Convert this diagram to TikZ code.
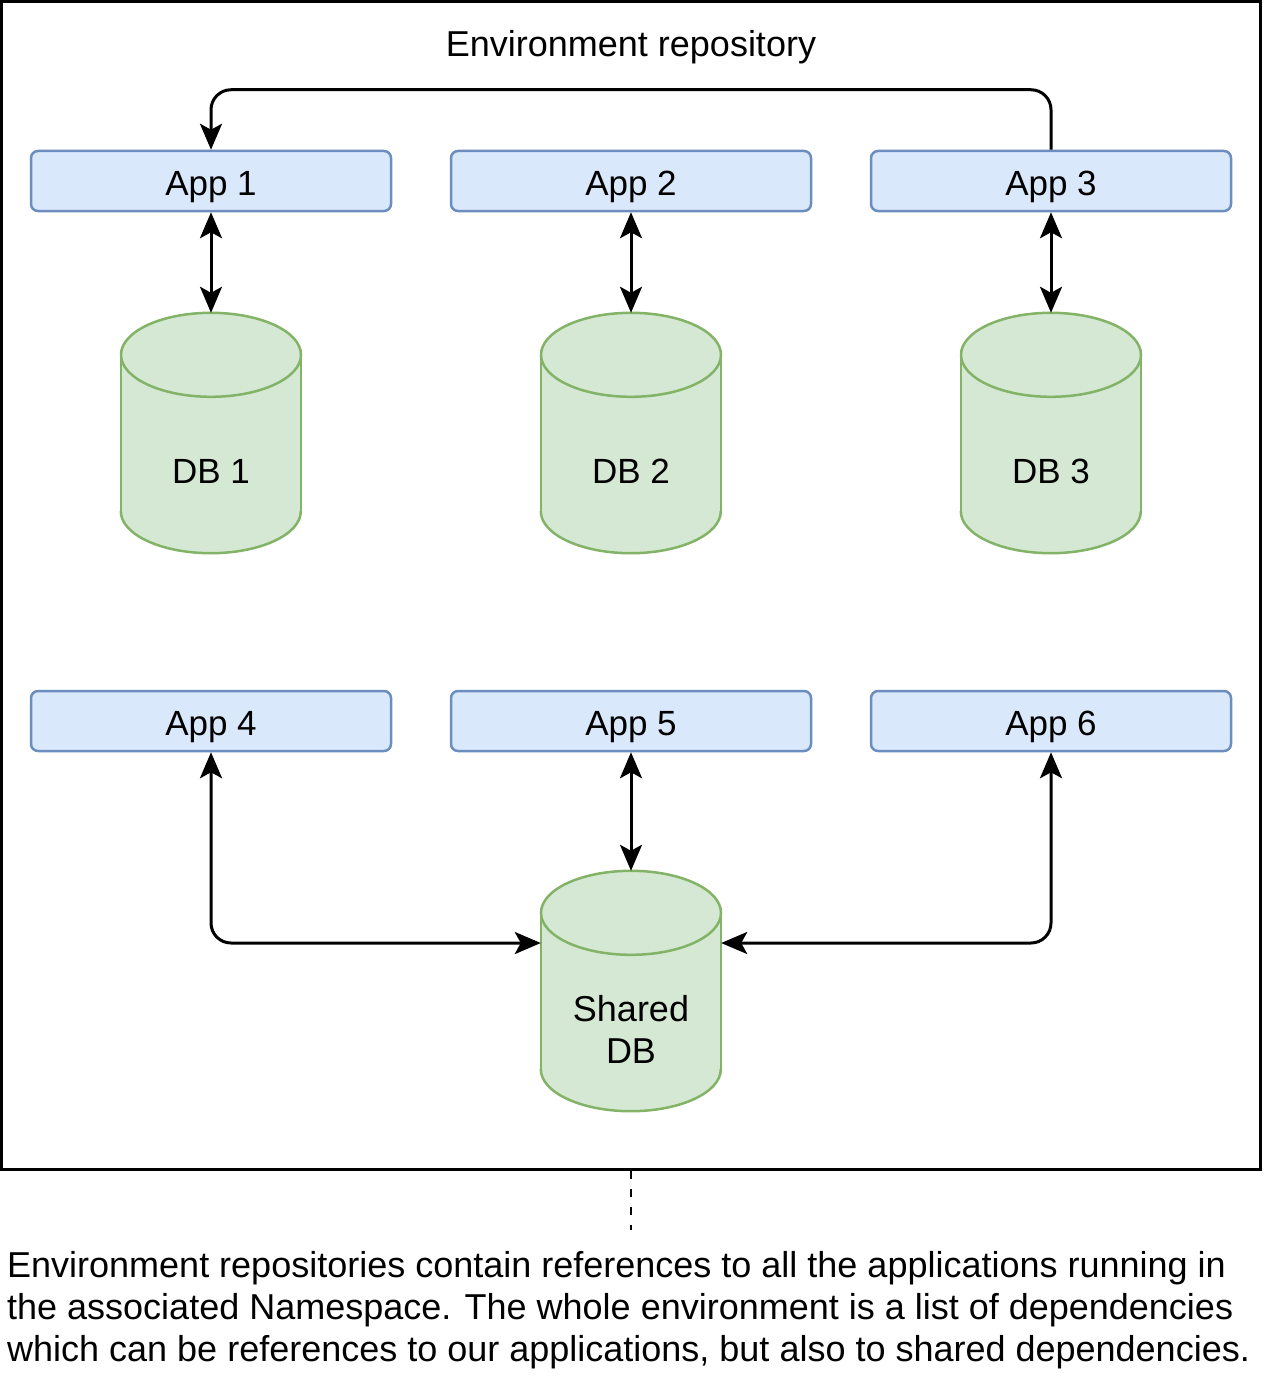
\documentclass[tikz,border=0pt]{standalone}
\usepackage{fontspec}
\setmainfont{Liberation Sans}
\usetikzlibrary{arrows.meta,calc}
\definecolor{appfill}{HTML}{DAE8FC}
\definecolor{appdraw}{HTML}{6C8EBF}
\definecolor{dbfill}{HTML}{D5E8D4}
\definecolor{dbdraw}{HTML}{82B366}
\tikzset{
  appbox/.style={draw=appdraw, fill=appfill, line width=2.5pt, rounded corners=7pt,
    minimum width=360pt, minimum height=60pt, inner sep=0pt,
    font=\fontsize{35}{42}\selectfont, text height=29pt, text depth=0pt},
  dbbox/.style={minimum width=180pt, minimum height=240pt, inner sep=0pt},
  dbtext/.style={align=center, font=\fontsize{35}{42}\selectfont},
  cylfill/.style={fill=dbfill},
  cylline/.style={draw=dbdraw, line width=2.5pt, line cap=round},
  >={Stealth[length=26pt, width=22pt, inset=6pt]},
  conn/.style={line width=3pt, draw=black, <->},
  conn1/.style={line width=3pt, draw=black, ->},
}
\newcommand\mycyl[1]{%
  \fill[cylfill] ($(#1.north west)+(0,42)$) rectangle ($(#1.south east)+(0,-42)$);
  \fill[cylfill] ($(#1.south)+(0,-42)$) ellipse[x radius=90pt, y radius=42pt];
  \draw[cylline] ($(#1.north west)+(0,42)$) -- ($(#1.south west)+(0,-42)$);
  \draw[cylline] ($(#1.north east)+(0,42)$) -- ($(#1.south east)+(0,-42)$);
  \draw[cylline] ($(#1.south west)+(0,-42)$) arc[start angle=180, end angle=360, x radius=90pt, y radius=42pt];
  \filldraw[cylfill, cylline] ($(#1.north)+(0,42)$) ellipse[x radius=90pt, y radius=42pt];
}
\begin{document}
\begin{tikzpicture}[x=1pt, y=-1pt]
\useasboundingbox (0,0) rectangle (1263,1383);
\node[draw, line width=3pt, minimum width=1259pt, minimum height=1168pt, inner sep=0pt] (frame) at (631,585.5) {};
\node[font=\fontsize{36}{42}\selectfont] (title) at (631,47) {Environment repository};
\node[appbox] (app1) at (211,181) {App 1};
\node[appbox] (app2) at (631,181) {App 2};
\node[appbox] (app3) at (1051,181) {App 3};
\node[appbox] (app4) at (211,721) {App 4};
\node[appbox] (app5) at (631,721) {App 5};
\node[appbox] (app6) at (1051,721) {App 6};
\node[dbbox] (db1) at (211,433) {};
\node[dbbox] (db2) at (631,433) {};
\node[dbbox] (db3) at (1051,433) {};
\node[dbbox] (sdb) at (631,991) {};
\mycyl{db1}\mycyl{db2}\mycyl{db3}\mycyl{sdb}
\node[dbtext] (db1t) at (211,471) {DB 1};
\node[dbtext] (db2t) at (631,471) {DB 2};
\node[dbtext] (db3t) at (1051,471) {DB 3};
\node[dbtext, font=\fontsize{36}{42}\selectfont] (sdbt) at (631,1029) {Shared\\DB};
\draw[conn] (app1.south) -- (db1.north);
\draw[conn] (app2.south) -- (db2.north);
\draw[conn] (app3.south) -- (db3.north);
\draw[conn] (app5.south) -- (sdb.north);
\draw[conn1, rounded corners=20pt] (app3.north) -- ++(0,-60) -| (app1.north);
\draw[conn, rounded corners=20pt] (app4.south) |- ([yshift=48pt]sdb.west);
\draw[conn, rounded corners=20pt] (app6.south) |- ([yshift=48pt]sdb.east);
\coordinate (dashend) at (631,1230);
\draw[line width=2.5pt, dash pattern=on 8pt off 10pt] (frame.south) -- (dashend);
\node[anchor=north west, align=left, inner sep=0pt, font=\fontsize{36}{42}\selectfont] (note) at (7,1251)
 {Environment repositories contain references to all the applications running in\\
  the associated Namespace. The whole environment is a list of dependencies\\
  which can be references to our applications, but also to shared dependencies.};
\end{tikzpicture}
\end{document}
